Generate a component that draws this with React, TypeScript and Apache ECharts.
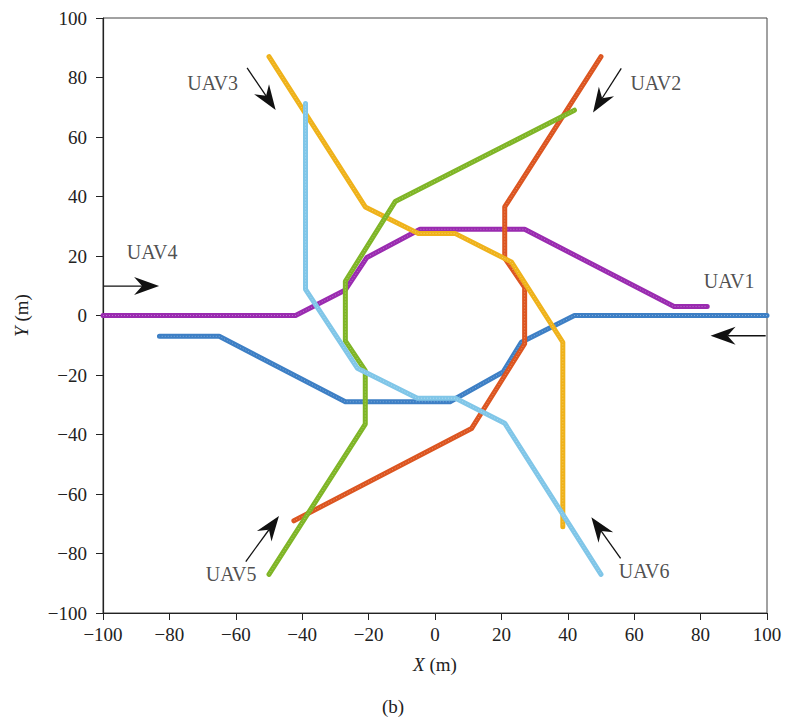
import React, { useEffect, useRef } from "react";
import * as echarts from "echarts";

const FONT = '"Liberation Serif", "Times New Roman", serif';

// Trajectories (metres)
const uav1X = [100, 42, 26, 20.5, 4.5, -27, -65, -83];
const uav1Y = [0, 0, -9, -19, -29, -29, -7, -7];
const uav2X = [50, 21, 21, 27, 27, 11, -42.5];
const uav2Y = [87, 36.5, 19.3, 9.5, -9.5, -38, -69];
const uav3X = [-50, -21, -5, 6, 23, 38.5, 38.5];
const uav3Y = [87, 36.5, 27.6, 27.6, 18, -9, -71];
const uav4X = [-100, -42, -27, -20.5, -4.5, 27, 72, 82];
const uav4Y = [0, 0, 8.6, 19.5, 29, 29, 3, 3];
const uav5X = [-50, -21, -21, -27, -27, -12, 42];
const uav5Y = [-87, -36.5, -18.5, -8.5, 11.5, 38.3, 69];
const uav6X = [-39, -39, -23.4, -5.3, 6.2, 21, 50];
const uav6Y = [71.3, 8.8, -17.7, -27.8, -27.8, -36.2, -87];

const uavNames = ["UAV1", "UAV2", "UAV3", "UAV4", "UAV5", "UAV6"];
const uavColors = ["#3d7fc5", "#dc5520", "#efb21a", "#9a2bb0", "#7fb526", "#80c6e8"];

// Direction arrows: start x, start y, tip x, tip y
const arrows = [
  [99.6, -6.8, 83, -6.8],
  [56.1, 83.1, 47.6, 68.2],
  [-56.6, 83.2, -48, 69.1],
  [-99.7, 9.9, -83.1, 9.9],
  [-57, -82.7, -47, -67.4],
  [55.9, -81.6, 47.1, -67.8],
];
// Label positions
const labelX = [88.6, 66.5, -67, -85.2, -61.4, 63];
const labelY = [11.6, 78.1, 78.2, 21.2, -86.9, -85.8];

const axisTicks = { min: -100, max: 100, interval: 20 };

function zip(xs: number[], ys: number[]) {
  return xs.map((x, i) => [x, ys[i]]);
}

const paths = [
  zip(uav1X, uav1Y),
  zip(uav2X, uav2Y),
  zip(uav3X, uav3Y),
  zip(uav4X, uav4Y),
  zip(uav5X, uav5Y),
  zip(uav6X, uav6Y),
];

const drawOrder = [0, 3, 1, 2, 4, 5];

export default function App() {
  const ref = useRef<HTMLDivElement>(null);
  useEffect(() => {
    const chart = echarts.init(ref.current!, null, { renderer: "svg" });
    const minus = (v: number) => String(v).replace("-", "\u2212");
    const lineSeries: any[] = [];
    drawOrder.forEach((i, k) => {
      lineSeries.push({
        type: "line",
        name: uavNames[i],
        data: paths[i],
        showSymbol: false,
        symbol: "none",
        lineStyle: { color: uavColors[i], width: 5, join: "round", cap: "round" },
        itemStyle: { color: uavColors[i] },
        z: 2,
        zlevel: 0,
      });
      lineSeries.push({
        type: "line",
        name: uavNames[i] + " texture",
        data: paths[i],
        showSymbol: false,
        symbol: "none",
        silent: true,
        lineStyle: {
          color: "rgba(255,255,255,0.35)",
          width: 1,
          type: [1, 2],
          join: "round",
        },
        z: 2,
      });
    });
    const nameStyle = {
      fontFamily: FONT,
      fontSize: 19,
      color: "#222",
      rich: { i: { fontStyle: "italic", fontFamily: FONT, fontSize: 19, color: "#222" } },
    };
    chart.setOption({
      animation: false,
      textStyle: { fontFamily: FONT },
      grid: {
        left: 103,
        right: 19,
        top: 18,
        bottom: 112,
        show: true,
        borderColor: "#444",
        borderWidth: 1,
        backgroundColor: "transparent",
      },
      xAxis: {
        type: "value",
        ...axisTicks,
        name: "{i|X} (m)",
        nameLocation: "middle",
        nameGap: 42,
        nameTextStyle: nameStyle,
        axisLine: { show: true, onZero: false, lineStyle: { color: "#222", width: 1.2 } },
        axisTick: { show: true, inside: false, length: 7, lineStyle: { color: "#222" } },
        axisLabel: { fontFamily: FONT, fontSize: 19, color: "#222", margin: 12, formatter: minus },
        splitLine: { show: false },
      },
      yAxis: {
        type: "value",
        ...axisTicks,
        name: "{i|Y} (m)",
        nameLocation: "middle",
        nameGap: 72,
        nameTextStyle: nameStyle,
        axisLine: { show: true, onZero: false, lineStyle: { color: "#222", width: 1.2 } },
        axisTick: { show: true, inside: false, length: 7, lineStyle: { color: "#222" } },
        axisLabel: { fontFamily: FONT, fontSize: 19, color: "#222", margin: 16, formatter: minus },
        splitLine: { show: false },
      },
      series: [
        ...lineSeries,
        {
          type: "custom",
          name: "arrows",
          data: arrows,
          encode: { x: [0, 2], y: [1, 3] },
          z: 5,
          renderItem: (params: any, api: any) => {
            const s = api.coord([api.value(0), api.value(1)]);
            const t = api.coord([api.value(2), api.value(3)]);
            const dx = t[0] - s[0];
            const dy = t[1] - s[1];
            const len = Math.hypot(dx, dy);
            const ux = dx / len;
            const uy = dy / len;
            const px = -uy;
            const py = ux;
            const L = 25;
            const W = 9;
            const N = 17;
            const back = [t[0] - ux * L, t[1] - uy * L];
            const notch = [t[0] - ux * N, t[1] - uy * N];
            return {
              type: "group",
              children: [
                {
                  type: "line",
                  shape: { x1: s[0], y1: s[1], x2: notch[0], y2: notch[1] },
                  style: { stroke: "#111", lineWidth: 1.3 },
                },
                {
                  type: "polygon",
                  shape: {
                    points: [
                      t,
                      [back[0] + px * W, back[1] + py * W],
                      notch,
                      [back[0] - px * W, back[1] - py * W],
                    ],
                  },
                  style: { fill: "#111" },
                },
              ],
            };
          },
        },
        {
          type: "scatter",
          name: "labels",
          symbol: "circle",
          symbolSize: 1,
          itemStyle: { color: "rgba(0,0,0,0)" },
          z: 6,
          data: uavNames.map((n, i) => ({ name: n, value: [labelX[i], labelY[i]] })),
          label: {
            show: true,
            position: "inside",
            formatter: "{b}",
            fontFamily: FONT,
            fontSize: 20,
            color: "#222",
          },
        },
      ],
      graphic: [
        {
          type: "text",
          left: "center",
          top: 697,
          style: { text: "(b)", fontFamily: FONT, fontSize: 19, fill: "#222" },
        },
      ],
    });
    return () => chart.dispose();
  }, []);
  return (
    <div
      ref={ref}
      style={{ position: "fixed", left: 0, top: 0, width: 786, height: 725, background: "#fff" }}
    />
  );
}
